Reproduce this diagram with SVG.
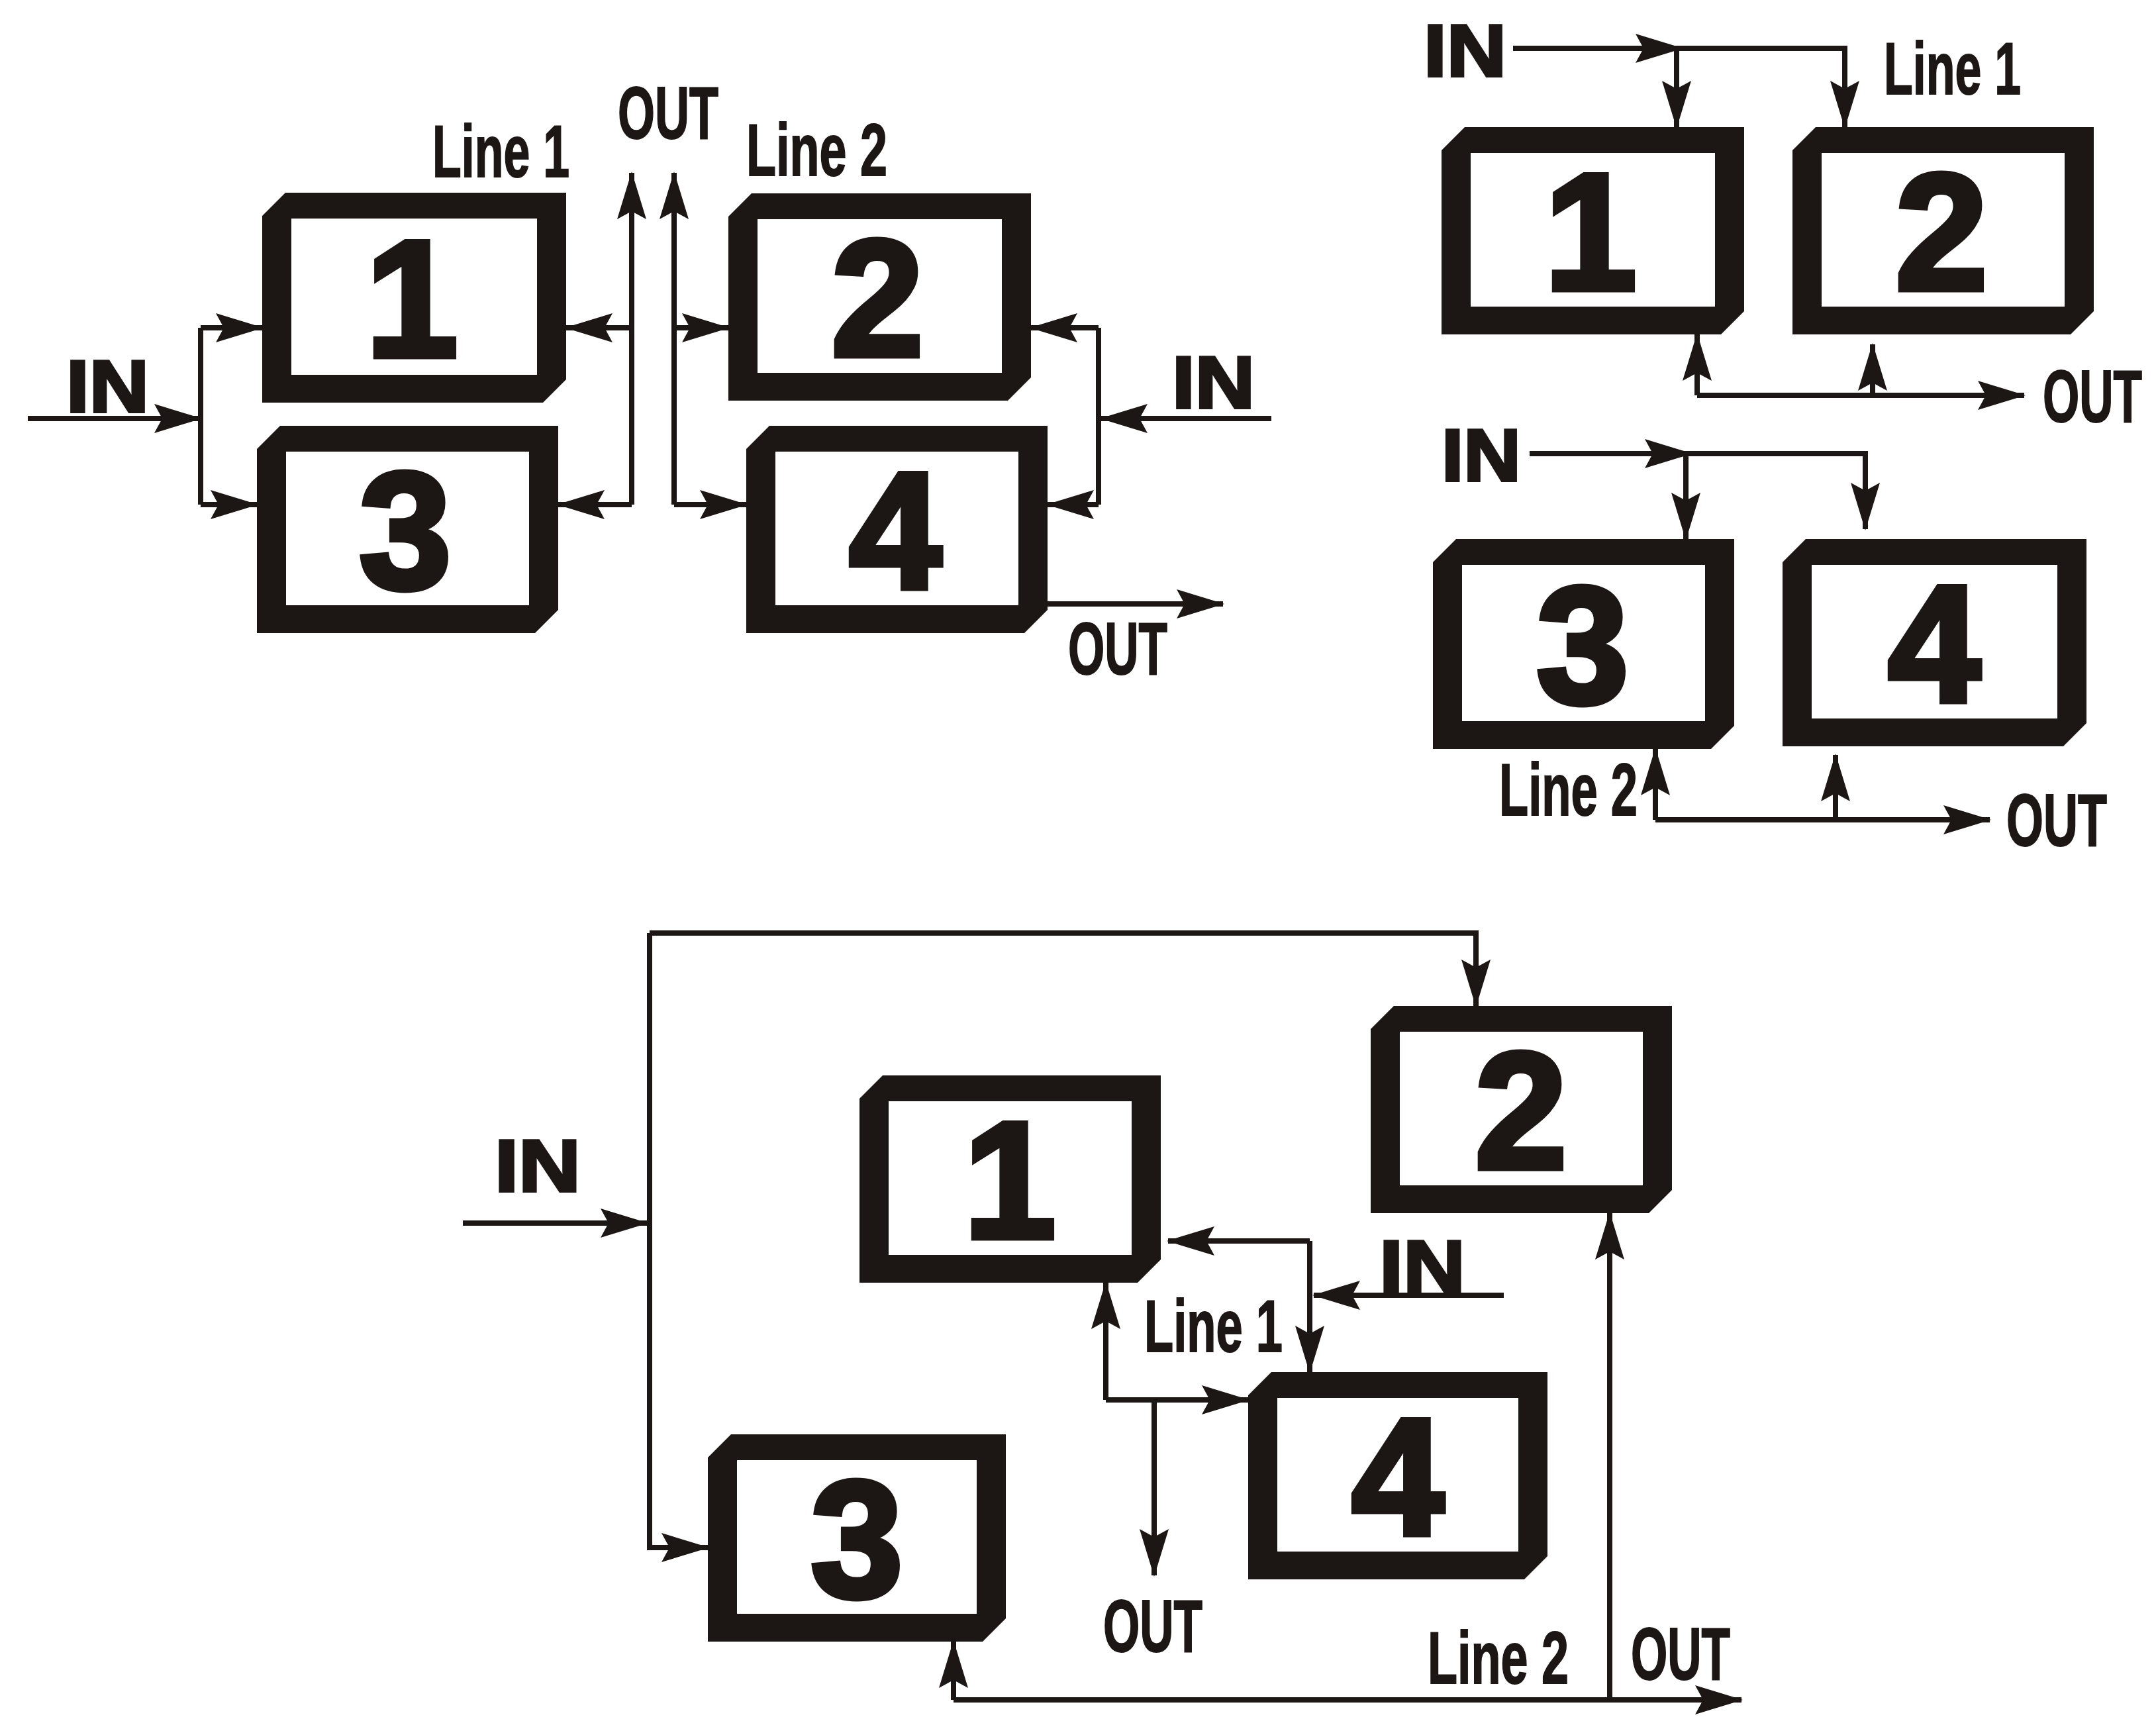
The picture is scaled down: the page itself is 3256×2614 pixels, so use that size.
<svg xmlns="http://www.w3.org/2000/svg" width="3256" height="2614" viewBox="0 0 3256 2614">
<style>
.bx{fill:#1c1614;fill-rule:evenodd}
.dg{font-family:"Liberation Sans",Arial,sans-serif;font-weight:bold;font-size:250px;fill:#1c1614;stroke:#1c1614;stroke-width:9;text-anchor:middle}
.lb{font-family:"Liberation Sans Narrow","Liberation Sans",sans-serif;font-weight:bold;font-size:112px;fill:#1c1614;stroke:#1c1614;stroke-width:2}
.in{font-family:"Liberation Sans",sans-serif;font-weight:bold;font-size:112px;fill:#1c1614;stroke:#1c1614;stroke-width:4}
.c path{fill:none;stroke:#1c1614;stroke-width:8}
</style>
<defs>
<marker id="a" markerUnits="userSpaceOnUse" markerWidth="72" markerHeight="46" refX="70" refY="22" orient="auto" viewBox="0 0 72 44">
<path d="M0,0 L72,22 L0,44 L12,22 Z" fill="#1c1614"/>
</marker>
</defs>
<rect width="3256" height="2614" fill="#fff"/>

<g id="tl-box1"><path class="bx" d="M431,291 H855 V573 L820,608 H396 V326 Z M440,330 H811 V566 H440 Z"/><text class="dg" x="622" y="538">1</text></g>
<g id="tl-box3"><path class="bx" d="M423,643 H843 V921 L808,956 H388 V678 Z M432,682 H799 V914 H432 Z"/><text class="dg" x="612" y="888">3</text></g>
<g id="tl-box2"><path class="bx" d="M1135,292 H1557 V570 L1522,605 H1100 V327 Z M1144,331 H1513 V563 H1144 Z"/><text class="dg" x="1325" y="537">2</text></g>
<g id="tl-box4"><path class="bx" d="M1162,643 H1582 V921 L1547,956 H1127 V678 Z M1171,682 H1538 V914 H1171 Z"/><text class="dg" x="1352" y="888">4</text></g>

<g id="tr-box1"><path class="bx" d="M2212,192 H2634 V470 L2599,505 H2177 V227 Z M2221,231 H2590 V463 H2221 Z"/><text class="dg" x="2402" y="437">1</text></g>
<g id="tr-box2"><path class="bx" d="M2742,192 H3162 V470 L3127,505 H2707 V227 Z M2751,231 H3118 V463 H2751 Z"/><text class="dg" x="2932" y="437">2</text></g>
<g id="tr-box3"><path class="bx" d="M2199,814 H2619 V1096 L2584,1131 H2164 V849 Z M2208,853 H2575 V1089 H2208 Z"/><text class="dg" x="2390" y="1061">3</text></g>
<g id="tr-box4"><path class="bx" d="M2727,814 H3151 V1092 L3116,1127 H2692 V849 Z M2736,853 H3107 V1085 H2736 Z"/><text class="dg" x="2921" y="1059">4</text></g>

<g id="b-box1"><path class="bx" d="M1333,1624 H1753 V1902 L1718,1937 H1298 V1659 Z M1342,1663 H1709 V1895 H1342 Z"/><text class="dg" x="1525" y="1869">1</text></g>
<g id="b-box2"><path class="bx" d="M2105,1519 H2525 V1797 L2490,1832 H2070 V1554 Z M2114,1558 H2481 V1790 H2114 Z"/><text class="dg" x="2297" y="1764">2</text></g>
<g id="b-box3"><path class="bx" d="M1104,2166 H1519 V2444 L1484,2479 H1069 V2201 Z M1113,2205 H1475 V2437 H1113 Z"/><text class="dg" x="1294" y="2411">3</text></g>
<g id="b-box4"><path class="bx" d="M1920,2072 H2337 V2350 L2302,2385 H1885 V2107 Z M1929,2111 H2293 V2343 H1929 Z"/><text class="dg" x="2111" y="2317">4</text></g>

<g class="c" id="connectors">
<path d="M42,632 H303" marker-end="url(#a)"/>
<path d="M303,495 V762"/>
<path d="M303,495 H396" marker-end="url(#a)"/>
<path d="M303,762 H388" marker-end="url(#a)"/>
<path d="M954,762 V261" marker-end="url(#a)"/>
<path d="M954,495 H855" marker-end="url(#a)"/>
<path d="M954,762 H843" marker-end="url(#a)"/>
<path d="M1018,762 V261" marker-end="url(#a)"/>
<path d="M1018,495 H1100" marker-end="url(#a)"/>
<path d="M1018,762 H1127" marker-end="url(#a)"/>
<path d="M1920,632 H1663" marker-end="url(#a)"/>
<path d="M1659,495 V762"/>
<path d="M1659,495 H1557" marker-end="url(#a)"/>
<path d="M1659,762 H1582" marker-end="url(#a)"/>
<path d="M1582,912 H1847" marker-end="url(#a)"/>

<path d="M2285,73 H2540" marker-end="url(#a)"/>
<path d="M2532,73 H2786 V192" marker-end="url(#a)"/>
<path d="M2532,73 V192" marker-end="url(#a)"/>
<path d="M2563,597 H3057" marker-end="url(#a)"/>
<path d="M2563,597 V505" marker-end="url(#a)"/>
<path d="M2828,597 V520" marker-end="url(#a)"/>
<path d="M2310,685 H2554" marker-end="url(#a)"/>
<path d="M2546,685 H2817 V799" marker-end="url(#a)"/>
<path d="M2546,685 V814" marker-end="url(#a)"/>
<path d="M2500,1238 H3005" marker-end="url(#a)"/>
<path d="M2500,1238 V1131" marker-end="url(#a)"/>
<path d="M2772,1238 V1140" marker-end="url(#a)"/>

<path d="M981,1409 H2229 V1519" marker-end="url(#a)"/>
<path d="M981,1409 V2337 H1069" marker-end="url(#a)"/>
<path d="M699,1847 H977" marker-end="url(#a)"/>
<path d="M1978,1874 H1764" marker-end="url(#a)"/>
<path d="M1978,1874 V2072" marker-end="url(#a)"/>
<path d="M2271,1956 H1984" marker-end="url(#a)"/>
<path d="M1670,2114 V1937" marker-end="url(#a)"/>
<path d="M1670,2114 H1885" marker-end="url(#a)"/>
<path d="M1743,2114 V2379" marker-end="url(#a)"/>
<path d="M1440,2567 H2630" marker-end="url(#a)"/>
<path d="M1440,2567 V2479" marker-end="url(#a)"/>
<path d="M2431,2567 V1832" marker-end="url(#a)"/>
</g>

<g id="labels">
<text class="in" x="100" y="622" textLength="125" lengthAdjust="spacingAndGlyphs">IN</text>
<text class="lb" x="653" y="267" textLength="207" lengthAdjust="spacingAndGlyphs">Line 1</text>
<text class="lb" x="933" y="209" textLength="152" lengthAdjust="spacingAndGlyphs">OUT</text>
<text class="lb" x="1127" y="265" textLength="213" lengthAdjust="spacingAndGlyphs">Line 2</text>
<text class="in" x="1770" y="616" textLength="125" lengthAdjust="spacingAndGlyphs">IN</text>
<text class="lb" x="1613" y="1018" textLength="150" lengthAdjust="spacingAndGlyphs">OUT</text>

<text class="in" x="2150" y="115" textLength="125" lengthAdjust="spacingAndGlyphs">IN</text>
<text class="lb" x="2845" y="142" textLength="207" lengthAdjust="spacingAndGlyphs">Line 1</text>
<text class="lb" x="3085" y="637" textLength="150" lengthAdjust="spacingAndGlyphs">OUT</text>
<text class="in" x="2177" y="726" textLength="120" lengthAdjust="spacingAndGlyphs">IN</text>
<text class="lb" x="2264" y="1231" textLength="209" lengthAdjust="spacingAndGlyphs">Line 2</text>
<text class="lb" x="3030" y="1277" textLength="152" lengthAdjust="spacingAndGlyphs">OUT</text>

<text class="in" x="747" y="1799" textLength="130" lengthAdjust="spacingAndGlyphs">IN</text>
<text class="in" x="2083" y="1951" textLength="130" lengthAdjust="spacingAndGlyphs">IN</text>
<text class="lb" x="1728" y="2041" textLength="209" lengthAdjust="spacingAndGlyphs">Line 1</text>
<text class="lb" x="1666" y="2494" textLength="150" lengthAdjust="spacingAndGlyphs">OUT</text>
<text class="lb" x="2156" y="2542" textLength="213" lengthAdjust="spacingAndGlyphs">Line 2</text>
<text class="lb" x="2463" y="2536" textLength="150" lengthAdjust="spacingAndGlyphs">OUT</text>
</g>
</svg>
